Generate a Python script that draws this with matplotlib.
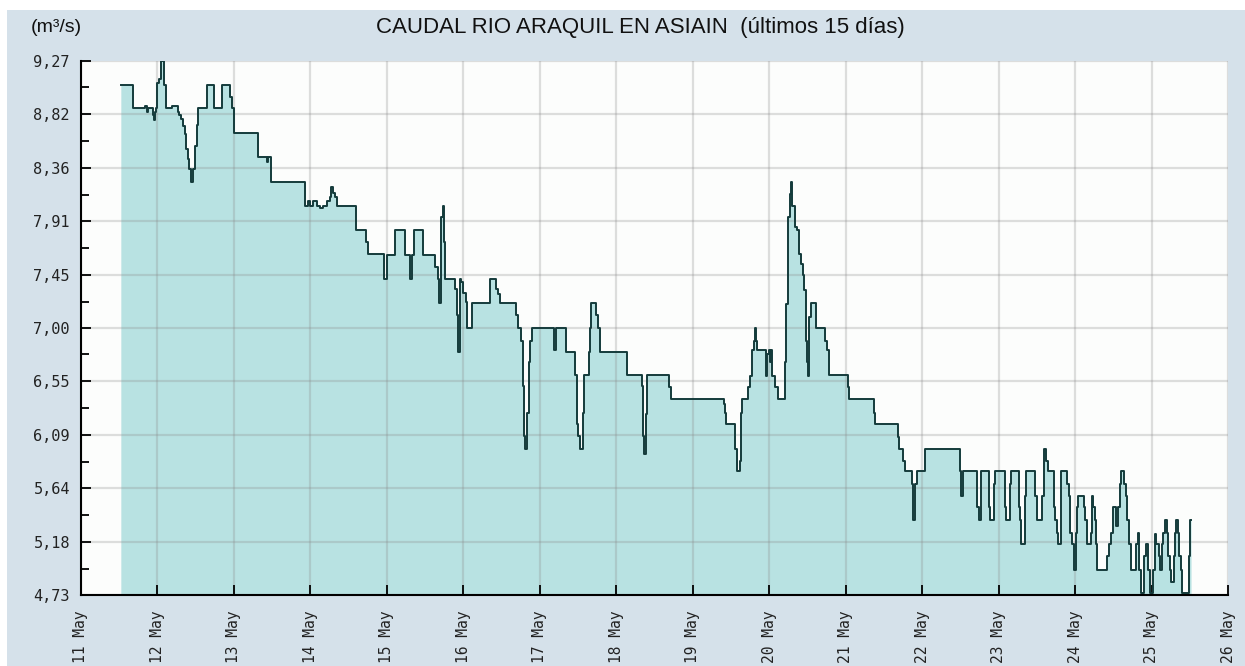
import matplotlib
matplotlib.use("Agg")
import matplotlib.pyplot as plt
from matplotlib.patches import Rectangle
import numpy as np

# River flow readings: hours since 11 May 00:00 and flow in m³/s.
# Each reading holds until the next one (step series).
hours = [
    12.5, 16.4, 20.1, 20.6, 20.9, 22.5, 23.0, 23.3, 23.65, 24.0, 24.6, 25.2, 26.0, 26.7,
    28.5, 30.35, 30.9, 31.4, 32.0, 32.55, 33.0, 33.5, 34.0, 34.5, 35.2, 35.7, 36.3, 36.8,
    39.7, 41.9, 44.2, 46.8, 47.5, 48.1, 55.7, 58.3, 58.6, 59.7, 70.3, 71.2, 71.8, 72.8,
    74.1, 75.0, 76.1, 77.1, 78.0, 78.5, 79.0, 79.75, 80.5, 86.2, 89.4, 90.2,
    95.1, 96.0, 98.6, 101.8, 103.2, 103.9, 104.5, 107.2, 111.2, 111.9, 112.3, 113.0,
    113.6, 113.9, 114.2, 117.5, 118.0, 118.4, 118.8, 119.4, 120.0, 120.7, 121.3, 122.8,
    128.4, 130.1, 130.8, 131.6, 136.6, 137.3, 138.1, 138.6, 139.0, 139.3, 140.0, 140.5,
    140.9, 141.4, 148.3, 149.1, 152.2, 155.0, 155.6, 156.0, 156.7, 157.5, 157.9, 159.3,
    159.8, 160.2, 161.7, 162.4, 162.9, 171.3, 176.1, 176.5, 176.8, 177.4, 177.8, 184.6,
    185.1, 201.7, 202.2, 202.5, 205.3, 205.9, 206.9, 207.2, 207.6, 209.5, 210.0, 210.6,
    211.1, 211.6, 211.8, 212.1, 214.9, 215.3, 215.8, 216.3, 216.6, 216.9, 217.7, 218.7,
    221.0, 221.4, 221.9, 222.6, 222.9, 223.3, 224.2, 224.7, 225.2, 225.9, 226.5, 227.0,
    227.5, 227.8, 228.1, 228.4, 229.1, 230.7, 233.6, 234.1, 234.9, 240.6, 240.9, 248.8,
    249.1, 256.3, 256.6, 258.0, 258.7, 260.8, 261.0, 261.9, 262.4, 264.8,
    275.8, 276.2, 276.7, 281.2, 281.7, 282.6, 284.9, 285.4, 286.5, 287.0, 289.9, 290.4,
    291.5, 292.0, 294.3, 294.8, 295.1, 296.2, 296.6, 299.5, 300.1, 301.6, 302.2, 302.9,
    303.5, 305.3, 305.8, 306.3, 306.7, 307.7, 309.5, 310.0, 310.5, 311.0, 311.8, 312.2,
    312.6, 313.0, 314.8, 315.2, 315.7, 316.9, 317.3, 317.7, 318.2, 318.6, 318.9, 322.1,
    322.7, 323.4, 324.0, 325.0, 325.5, 326.1, 326.5, 327.4, 327.9, 328.4, 328.9, 329.4,
    331.2, 331.7, 332.2, 332.8, 333.7, 334.3, 334.8, 335.4, 336.5, 337.0, 337.5, 338.2,
    338.7, 339.3, 339.7, 340.1, 340.7, 341.2, 341.7, 342.2, 342.9, 343.3, 343.7, 344.2,
    344.6, 345.1, 345.5, 347.7, 348.1,
]
flow = [
    9.07, 8.87, 8.89, 8.84, 8.87, 8.81, 8.77, 8.84, 8.87, 9.08, 9.12, 9.27, 9.07, 8.87,
    8.89, 8.84, 8.81, 8.78, 8.72, 8.65, 8.52, 8.44, 8.35, 8.24, 8.35, 8.55, 8.73, 8.87,
    9.07, 8.87, 9.07, 8.96, 8.87, 8.66, 8.45, 8.41, 8.45, 8.24, 8.04, 8.08, 8.04, 8.08,
    8.04, 8.02, 8.04, 8.08, 8.11, 8.20, 8.15, 8.11, 8.04, 7.83, 7.73, 7.63,
    7.42, 7.62, 7.83, 7.62, 7.42, 7.62, 7.83, 7.62, 7.52, 7.42, 7.21, 7.94,
    8.04, 7.73, 7.42, 7.33, 7.11, 6.80, 7.42, 7.39, 7.30, 7.22, 7.00, 7.21,
    7.42, 7.33, 7.29, 7.21, 7.11, 7.00, 6.89, 6.51, 6.08, 5.97, 6.28, 6.71,
    6.89, 7.00, 6.81, 7.00, 6.80, 6.60, 6.18, 6.08, 5.97, 6.28, 6.60, 6.80,
    7.00, 7.21, 7.11, 7.00, 6.80, 6.60, 6.51, 6.08, 5.93, 6.27, 6.60, 6.50,
    6.40, 6.35, 6.28, 6.18, 5.97, 5.78, 5.87, 6.28, 6.40, 6.50, 6.59, 6.81,
    6.89, 7.00, 6.89, 6.81, 6.59, 6.78, 6.81, 6.71, 6.81, 6.59, 6.50, 6.40,
    6.71, 7.20, 7.94, 8.14, 8.24, 8.04, 7.86, 7.83, 7.63, 7.54, 7.45, 7.32,
    6.89, 6.71, 6.59, 7.09, 7.21, 7.00, 6.89, 6.81, 6.60, 6.50, 6.40, 6.28,
    6.18, 6.07, 5.97, 5.87, 5.78, 5.67, 5.37, 5.67, 5.78, 5.97,
    5.78, 5.57, 5.78, 5.48, 5.37, 5.78, 5.48, 5.37, 5.67, 5.78, 5.48, 5.37,
    5.67, 5.78, 5.48, 5.37, 5.16, 5.57, 5.78, 5.57, 5.37, 5.57, 5.97, 5.87,
    5.78, 5.48, 5.37, 5.26, 5.16, 5.78, 5.67, 5.57, 5.26, 5.16, 4.94, 5.26,
    5.48, 5.57, 5.48, 5.37, 5.16, 5.26, 5.57, 5.48, 5.37, 5.16, 4.94, 5.06,
    5.16, 5.26, 5.48, 5.32, 5.48, 5.67, 5.78, 5.67, 5.57, 5.37, 5.16, 4.94,
    5.16, 5.26, 4.94, 4.75, 5.06, 5.16, 4.94, 4.75, 4.94, 5.25, 5.16, 5.06,
    4.94, 5.16, 5.26, 5.37, 5.26, 5.06, 4.94, 4.84, 5.06, 5.26, 5.37, 5.26,
    5.06, 4.94, 4.75, 5.06, 5.37,
]
last_hour = 348.4

day_labels = [f"{d} May" for d in range(11, 27)]
y_ticks = [4.73, 5.18, 5.64, 6.09, 6.55, 7.00, 7.45, 7.91, 8.36, 8.82, 9.27]
y_tick_labels = [f"{v:.2f}".replace(".", ",") for v in y_ticks]

title = "CAUDAL RIO ARAQUIL EN ASIAIN  (últimos 15 días)"
unit = "(m³/s)"

W, H = 1245, 666
fig = plt.figure(figsize=(W / 100, H / 100), dpi=100)
fig.patch.set_facecolor("white")
fig.add_artist(Rectangle((7 / W, 0), 1 - 7 / W, (H - 10) / H,
                         transform=fig.transFigure, facecolor="#d5e1ea",
                         edgecolor="none", zorder=-10))

left, right, top, bottom = 81, 1228, 61, 595
ax = fig.add_axes([left / W, 1 - bottom / H, (right - left) / W, (bottom - top) / H])
ax.set_facecolor("#fcfdfc")

t = np.array(hours + [last_hour]) / 24.0
v = np.array(flow + [flow[-1]])
ax.fill_between(t, v, y_ticks[0], step="post", color="#b8e2e2", lw=0, zorder=1)
ax.step(t, v, where="post", color="#143b3b", lw=1.4, zorder=3)

ax.set_xlim(0, 15)
ax.set_ylim(y_ticks[0], y_ticks[-1])

ax.set_xticks(range(len(day_labels)))
ax.set_xticklabels(day_labels, rotation=90, family="DejaVu Sans Mono",
                   fontsize=10.5, color="#222222")
ax.set_yticks(y_ticks)
ax.set_yticklabels(y_tick_labels, family="DejaVu Sans Mono",
                   fontsize=11, color="#222222")
ax.set_yticks([(a + b) / 2 for a, b in zip(y_ticks[:-1], y_ticks[1:])], minor=True)

ax.tick_params(axis="both", which="major", direction="in", length=7, width=1.3,
               color="black")
ax.tick_params(axis="y", which="major", pad=8)
ax.tick_params(axis="x", which="major", pad=11)
ax.tick_params(axis="y", which="minor", direction="in", length=6, width=1.3,
               color="black")

ax.grid(True, which="major", color="#8a8a8a", alpha=0.28, lw=1.6)
ax.set_axisbelow(False)

for side in ("top", "right"):
    ax.spines[side].set_visible(False)
for side in ("left", "bottom"):
    ax.spines[side].set_linewidth(1.5)
    ax.spines[side].set_color("black")
    ax.spines[side].set_zorder(4)

fig.text(640 / W, 1 - 27 / H, title, ha="center", va="center",
         family="Liberation Sans", fontsize=16, color="#111111")
fig.text(31 / W, 1 - 28 / H, unit, ha="left", va="center",
         family="Liberation Sans", fontsize=14, color="#111111")

fig.savefig("out.png", dpi=100)
